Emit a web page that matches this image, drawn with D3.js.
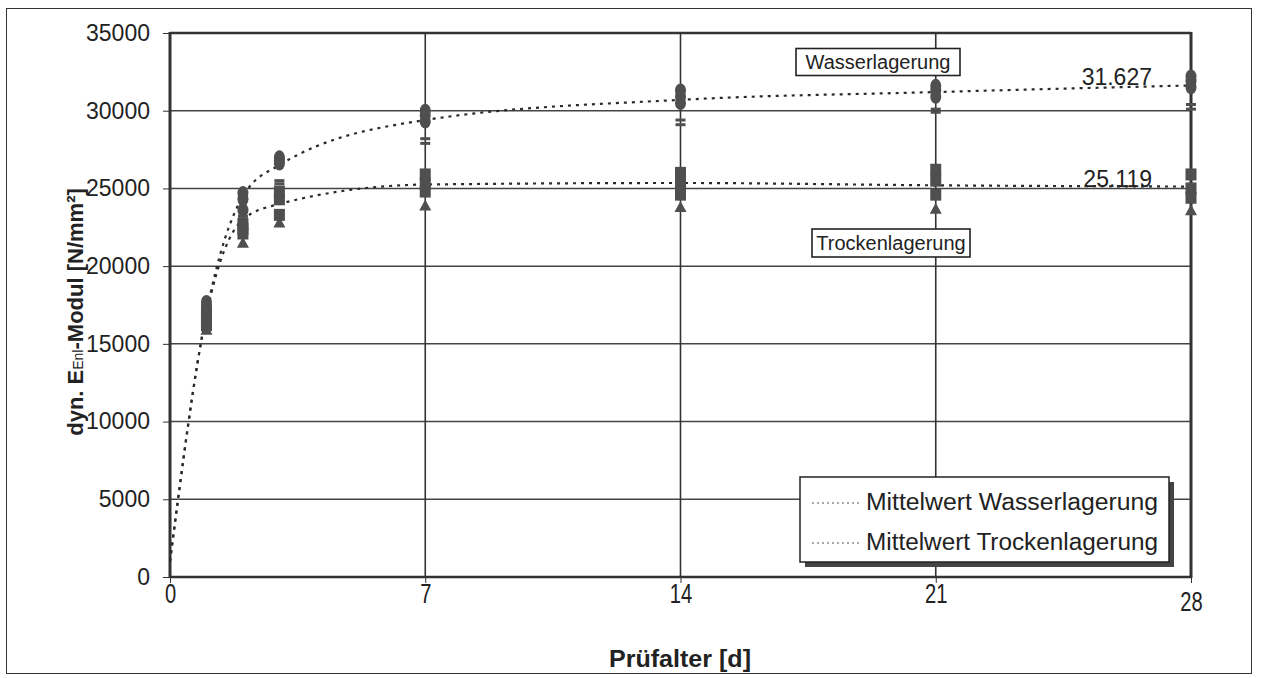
<!DOCTYPE html>
<html>
<head>
<meta charset="utf-8">
<script src="https://cdn.jsdelivr.net/npm/d3@7"></script>
<style>
  html, body { margin: 0; padding: 0; background: #fff; }
  svg { display: block; }
  text { font-family: "Liberation Sans", Arial, sans-serif; fill: #222; }
</style>
</head>
<body>
<svg id="chart" width="1263" height="678"></svg>
<script>
// ---------- data ----------
const days = [1, 2, 3, 7, 14, 21, 28];
const meanDays = [0, 1, 2, 3, 7, 14, 21, 28];
const meanWasser = [1000, 17000, 24500, 26500, 29400, 30700, 31200, 31627];
const meanTrocken = [1000, 16900, 23000, 24000, 25250, 25350, 25200, 25119];

// individual specimens, Wasserlagerung (round markers)
const wasserA = [17700, 24700, 27000, 30000, 31300, 31600, 32200];
const wasserB = [17400, 24300, 26800, 29700, 30900, 31300, 31900];
const wasserC = [17100, 23600, 26600, 29300, 30500, 30900, 31500];
// Wasserlagerung (dash markers)
const wasserD = [16800, 23200, 25500, 28200, 29400, 30100, 30400];
const wasserE = [16500, 23000, 25300, 27900, 29100, 29900, 30100];
// individual specimens, Trockenlagerung (square markers)
const trockenA = [17000, 22700, 24800, 25900, 26000, 26200, 25900];
const trockenB = [16600, 22400, 24300, 25300, 25300, 25500, 25000];
const trockenC = [16200, 22100, 23300, 24800, 24600, 24600, 24400];
// Trockenlagerung (triangle markers)
const trockenD = [15900, 21500, 22800, 23900, 23800, 23700, 23600];

const xTicks = [0, 7, 14, 21, 28];
const yTicks = [0, 5000, 10000, 15000, 20000, 25000, 30000, 35000];
const legendLabels = ["Mittelwert Wasserlagerung", "Mittelwert Trockenlagerung"];

// ---------- layout ----------
const svg = d3.select("#chart");
const L = 170, R = 1191, T = 33, B = 577;
const x = d3.scaleLinear().domain([0, 28]).range([L, R]);
const y = d3.scaleLinear().domain([0, 35000]).range([B, T]);
const markColor = "#4f4f4f";

// outer frame
svg.append("rect").attr("x", 6.5).attr("y", 8.5).attr("width", 1245).attr("height", 665)
  .attr("fill", "none").attr("stroke", "#333").attr("stroke-width", 1);

// horizontal gridlines
svg.append("g").selectAll("line").data(yTicks.filter(d => d > 0)).join("line")
  .attr("x1", L).attr("x2", R).attr("y1", d => y(d)).attr("y2", d => y(d))
  .attr("stroke", "#444").attr("stroke-width", 1.5);
// vertical gridlines
svg.append("g").selectAll("line").data(xTicks.filter(d => d > 0 && d < 28)).join("line")
  .attr("x1", d => x(d)).attr("x2", d => x(d)).attr("y1", T).attr("y2", B)
  .attr("stroke", "#333").attr("stroke-width", 1.6);

// axes
const yAxis = d3.axisLeft(y).tickValues(yTicks).tickSize(7).tickPadding(13).tickFormat(d3.format("d"));
const gy = svg.append("g").attr("transform", `translate(${L},0)`).call(yAxis);
gy.select(".domain").remove();
gy.selectAll("line").attr("stroke", "#333");
gy.selectAll("text").style("font-size", "23px").attr("fill", "#222");

const xAxis = d3.axisBottom(x).tickValues(xTicks).tickSize(6).tickPadding(0);
const gx = svg.append("g").attr("transform", `translate(0,${B})`).call(xAxis);
gx.select(".domain").remove();
gx.selectAll("line").attr("stroke", "#333");
gx.selectAll("text").style("font-size", "28px")
  .attr("fill", "#222").attr("dy", "0.72em")
  .attr("transform", d => d === 28 ? "translate(0,8) scale(0.72,1)" : "scale(0.72,1)");

// plot frame
svg.append("line").attr("x1", L).attr("x2", L).attr("y1", T - 1).attr("y2", B + 1).attr("stroke", "#333").attr("stroke-width", 3);
svg.append("line").attr("x1", R).attr("x2", R).attr("y1", T - 1).attr("y2", B + 1).attr("stroke", "#333").attr("stroke-width", 3);
svg.append("line").attr("x1", L).attr("x2", R).attr("y1", T).attr("y2", T).attr("stroke", "#333").attr("stroke-width", 2.5);
svg.append("line").attr("x1", L).attr("x2", R).attr("y1", B).attr("y2", B).attr("stroke", "#333").attr("stroke-width", 2.5);

// mean lines
const line = d3.line().x(d => x(d[0])).y(d => y(d[1])).curve(d3.curveMonotoneX);
[meanWasser, meanTrocken].forEach(vals => {
  svg.append("path").datum(meanDays.map((d, i) => [d, vals[i]]))
    .attr("d", line).attr("fill", "none").attr("stroke", "#2a2a2a")
    .attr("stroke-width", 2.2).attr("stroke-dasharray", "3,5");
});

// markers
const gm = svg.append("g").attr("fill", markColor);
function roundMarks(vals) {
  gm.selectAll(null).data(days.map((d, i) => [d, vals[i]])).join("ellipse")
    .attr("cx", d => x(d[0])).attr("cy", d => y(d[1])).attr("rx", 5.5).attr("ry", 7);
}
function dashMarks(vals) {
  gm.selectAll(null).data(days.map((d, i) => [d, vals[i]])).join("rect")
    .attr("x", d => x(d[0]) - 5).attr("y", d => y(d[1]) - 1.5).attr("width", 10).attr("height", 3);
}
function squareMarks(vals) {
  gm.selectAll(null).data(days.map((d, i) => [d, vals[i]])).join("rect")
    .attr("x", d => x(d[0]) - 5.5).attr("y", d => y(d[1]) - 6).attr("width", 11).attr("height", 12);
}
function triMarks(vals) {
  gm.selectAll(null).data(days.map((d, i) => [d, vals[i]])).join("path")
    .attr("d", d => { const cx = x(d[0]), cy = y(d[1]); return `M${cx - 6},${cy + 5}L${cx + 6},${cy + 5}L${cx},${cy - 6}Z`; });
}
roundMarks(wasserA); roundMarks(wasserB); roundMarks(wasserC);
dashMarks(wasserD); dashMarks(wasserE);
squareMarks(trockenA); squareMarks(trockenB); squareMarks(trockenC);
triMarks(trockenD);

// annotation boxes
function labelBox(cx, cy, w, h, txt) {
  svg.append("rect").attr("x", cx - w / 2).attr("y", cy - h / 2).attr("width", w).attr("height", h)
    .attr("fill", "#fff").attr("stroke", "#222").attr("stroke-width", 1.6);
  svg.append("text").attr("x", cx).attr("y", cy).attr("text-anchor", "middle").attr("dy", "0.36em")
    .style("font-size", "20px").text(txt);
}
labelBox(878, 62, 164, 27, "Wasserlagerung");
labelBox(891, 243, 158, 28, "Trockenlagerung");

// value labels
svg.append("text").attr("x", 1152).attr("y", 85).attr("text-anchor", "end").style("font-size", "23px").text("31.627");
svg.append("text").attr("x", 1152).attr("y", 187).attr("text-anchor", "end").style("font-size", "23px").text("25.119");

// legend
const lgX = 800, lgY = 477, lgW = 369, lgH = 85;
svg.append("rect").attr("x", lgX + 5).attr("y", lgY + 5).attr("width", lgW).attr("height", lgH).attr("fill", "#444");
svg.append("rect").attr("x", lgX).attr("y", lgY).attr("width", lgW).attr("height", lgH)
  .attr("fill", "#fff").attr("stroke", "#222").attr("stroke-width", 1.5);
legendLabels.forEach((lab, i) => {
  const yy = lgY + 25 + i * 40;
  svg.append("line").attr("x1", lgX + 12).attr("x2", lgX + 62).attr("y1", yy + 1).attr("y2", yy + 1)
    .attr("stroke", "#555").attr("stroke-width", 1.2).attr("stroke-dasharray", "2,3");
  svg.append("text").attr("x", lgX + 66).attr("y", yy).attr("dy", "0.36em")
    .attr("textLength", 292).attr("lengthAdjust", "spacingAndGlyphs")
    .style("font-size", "23px").text(lab);
});

// axis titles
svg.append("text").attr("x", 680).attr("y", 667).attr("text-anchor", "middle")
  .attr("textLength", 142).attr("lengthAdjust", "spacingAndGlyphs")
  .style("font-size", "23px").style("font-weight", "bold")
  .text("Prüfalter [d]");
const yt = svg.append("text").attr("transform", "translate(83,312) rotate(-90)").attr("text-anchor", "middle")
  .style("font-size", "22px").style("font-weight", "bold");
yt.append("tspan").text("dyn. E");
yt.append("tspan").style("font-size", "14px").style("font-weight", "normal").text("Enl");
yt.append("tspan").text("-Modul [N/mm²]");
</script>
</body>
</html>
